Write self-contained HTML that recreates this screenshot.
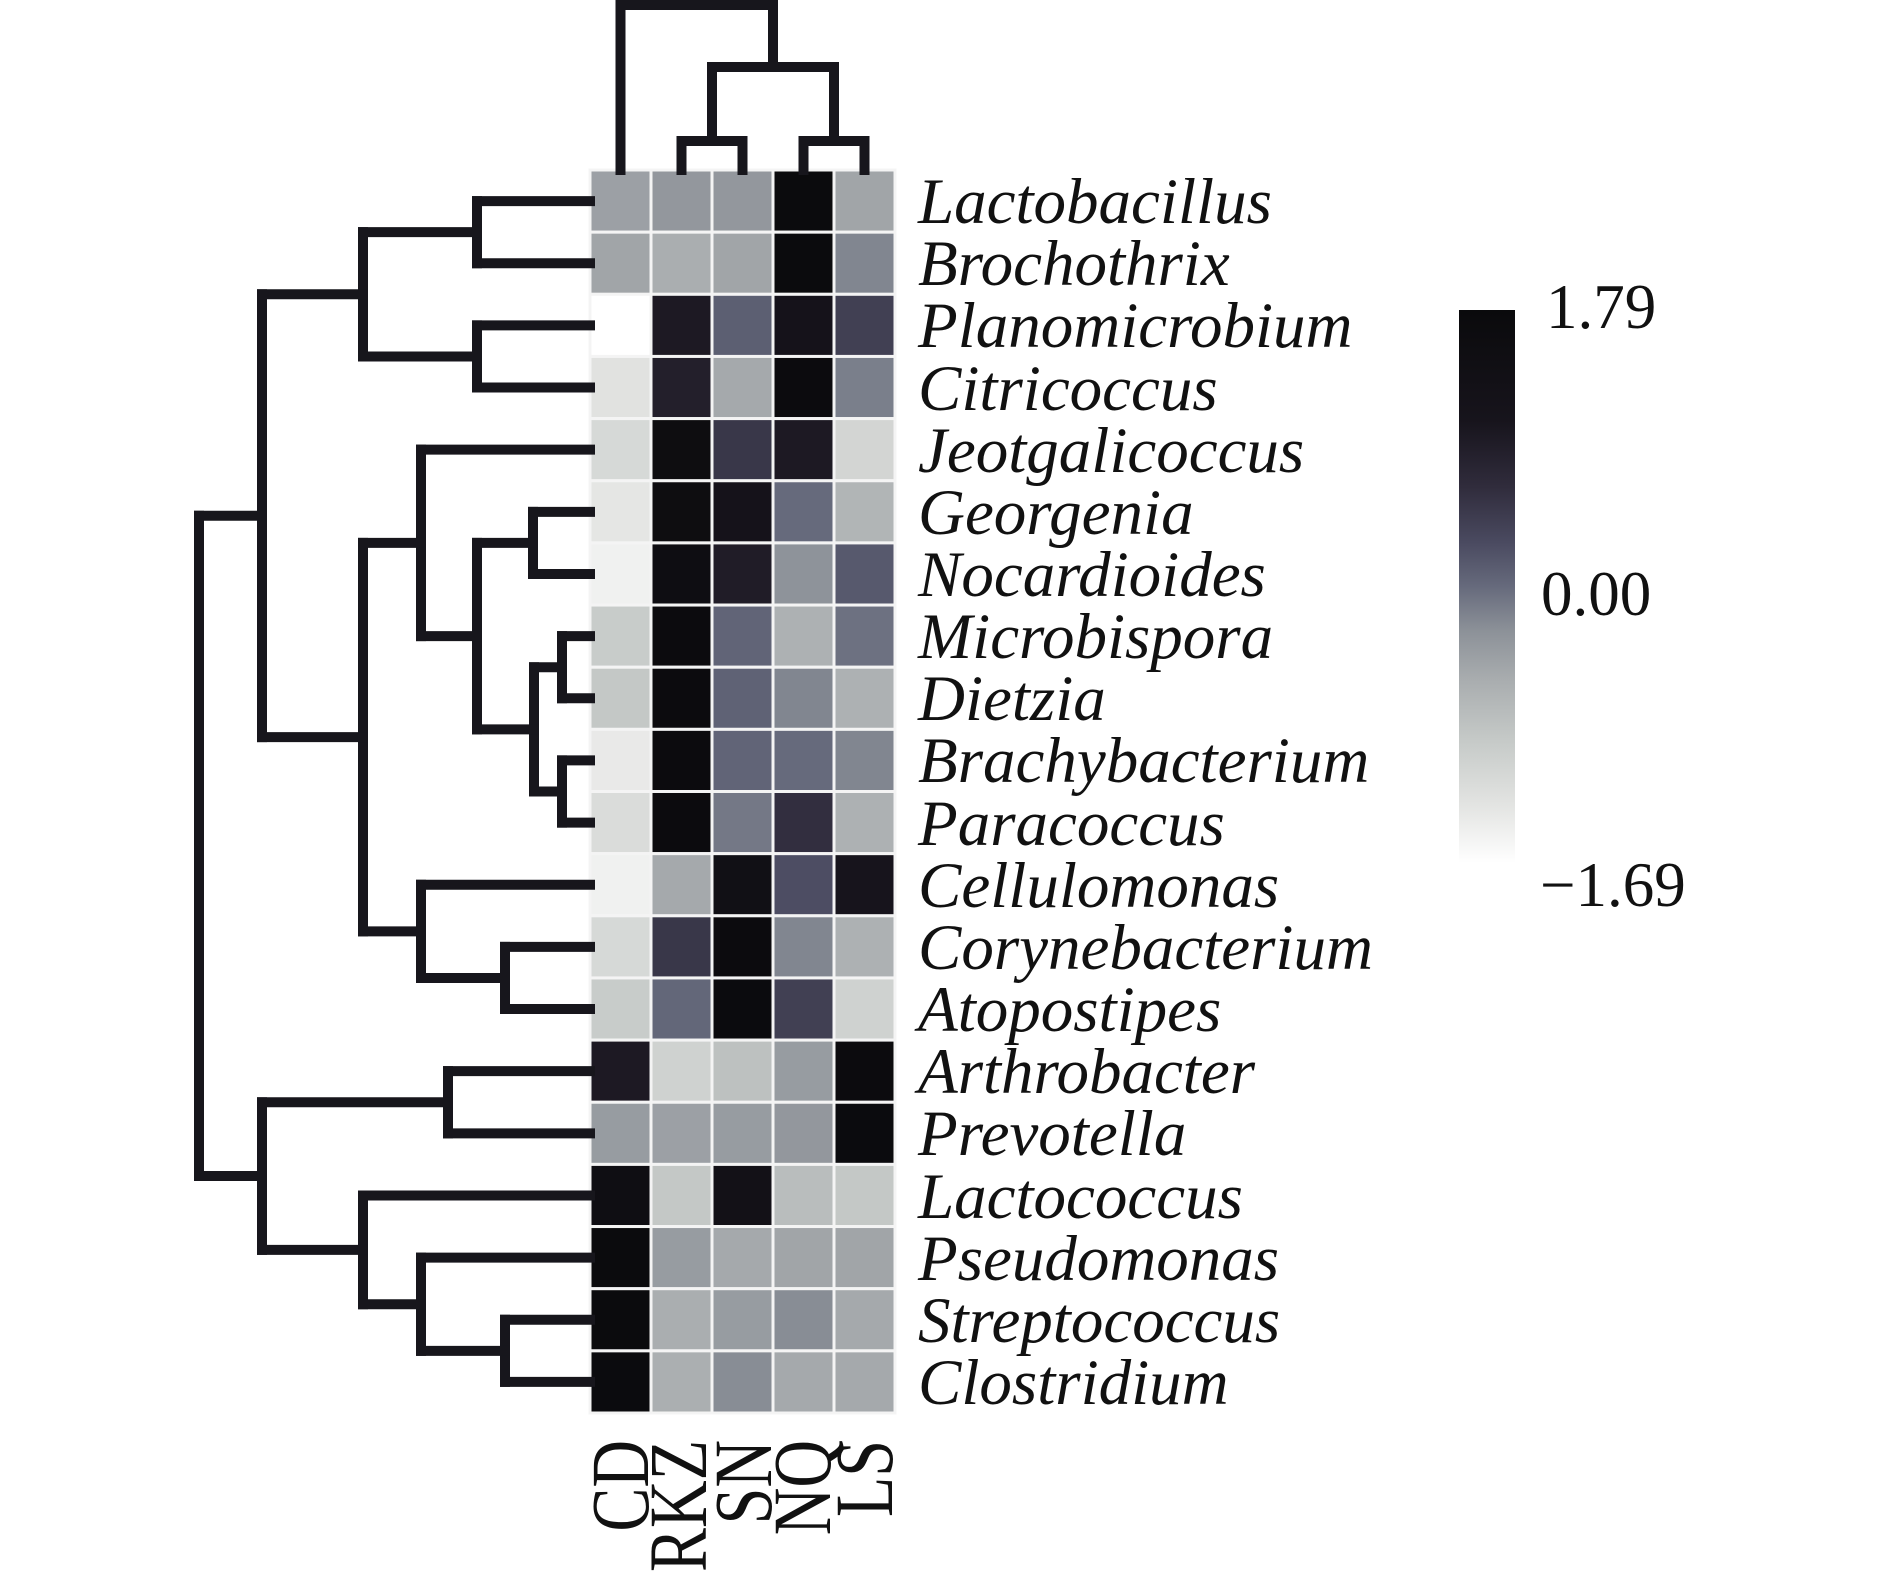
<!DOCTYPE html>
<html><head><meta charset="utf-8">
<style>
html,body{margin:0;padding:0;background:#fff;}
svg{display:block;}
.rl{font-family:"Liberation Serif",serif;font-style:italic;font-size:65px;fill:#111;}
.cl{font-family:"Liberation Serif",serif;font-size:66px;fill:#111;}
.cb{font-family:"Liberation Serif",serif;font-size:63px;fill:#111;}
</style></head>
<body>
<svg id="chart" width="1890" height="1571" viewBox="0 0 1890 1571" xmlns="http://www.w3.org/2000/svg">
<defs>
<linearGradient id="cbg" x1="0" y1="1" x2="0" y2="0">
<stop offset="0" stop-color="#ffffff"/>
<stop offset="0.1" stop-color="#e4e5e3"/>
<stop offset="0.22" stop-color="#c6cac8"/>
<stop offset="0.33" stop-color="#a9adaf"/>
<stop offset="0.42" stop-color="#8c9198"/>
<stop offset="0.5" stop-color="#666a7c"/>
<stop offset="0.58" stop-color="#4a4a60"/>
<stop offset="0.68" stop-color="#302c3c"/>
<stop offset="0.8" stop-color="#17141c"/>
<stop offset="1" stop-color="#0a0a0c"/>
</linearGradient>
</defs>
<g id="cells"></g>
<g id="rowdend"></g>
<g id="coldend"></g>
<g>
<text class="rl" x="918" y="223">Lactobacillus</text>
<text class="rl" x="918" y="285">Brochothrix</text>
<text class="rl" x="918" y="347">Planomicrobium</text>
<text class="rl" x="918" y="410">Citricoccus</text>
<text class="rl" x="918" y="472">Jeotgalicoccus</text>
<text class="rl" x="918" y="534">Georgenia</text>
<text class="rl" x="918" y="596">Nocardioides</text>
<text class="rl" x="918" y="658">Microbispora</text>
<text class="rl" x="918" y="720">Dietzia</text>
<text class="rl" x="918" y="782">Brachybacterium</text>
<text class="rl" x="918" y="845">Paracoccus</text>
<text class="rl" x="918" y="907">Cellulomonas</text>
<text class="rl" x="918" y="969">Corynebacterium</text>
<text class="rl" x="918" y="1031">Atopostipes</text>
<text class="rl" x="918" y="1093">Arthrobacter</text>
<text class="rl" x="918" y="1155">Prevotella</text>
<text class="rl" x="918" y="1218">Lactococcus</text>
<text class="rl" x="918" y="1280">Pseudomonas</text>
<text class="rl" x="918" y="1342">Streptococcus</text>
<text class="rl" x="918" y="1404">Clostridium</text>
</g>
<g>
<text class="cl" text-anchor="end" transform="translate(648,1440) rotate(-90) scale(1,1.25)">CD</text>
<text class="cl" text-anchor="end" transform="translate(706,1440) rotate(-90) scale(1,1.25)">RKZ</text>
<text class="cl" text-anchor="end" transform="translate(771,1440) rotate(-90) scale(1,1.25)">SN</text>
<text class="cl" text-anchor="end" transform="translate(830,1440) rotate(-90) scale(1,1.25)">NQ</text>
<text class="cl" text-anchor="end" transform="translate(892,1440) rotate(-90) scale(1,1.25)">LS</text>
</g>
<g>
<rect x="1459" y="310" width="56" height="553" fill="url(#cbg)"/>
<text class="cb" x="1546" y="328">1.79</text>
<text class="cb" x="1541" y="615">0.00</text>
<text class="cb" x="1540" y="906">−1.69</text>
</g>
</svg>
<script>
const columns = ["CD","RKZ","SN","NQ","LS"];
const rows = ["Lactobacillus","Brochothrix","Planomicrobium","Citricoccus","Jeotgalicoccus","Georgenia","Nocardioides","Microbispora","Dietzia","Brachybacterium","Paracoccus","Cellulomonas","Corynebacterium","Atopostipes","Arthrobacter","Prevotella","Lactococcus","Pseudomonas","Streptococcus","Clostridium"];
const valCD  = [-0.4,-0.45,-1.69,-1.3,-1.15,-1.35,-1.5,-0.95,-0.9,-1.4,-1.2,-1.5,-1.15,-0.95,1.0,-0.35,1.5,1.75,1.75,1.72];
const valRKZ = [-0.3,-0.55,1.0,0.9,1.6,1.6,1.55,1.7,1.7,1.7,1.7,-0.5,0.55,0.08,-1.05,-0.4,-0.9,-0.35,-0.55,-0.57];
const valSN  = [-0.3,-0.45,0.15,-0.5,0.55,1.2,0.95,0.1,0.12,0.1,-0.05,1.4,1.7,1.72,-0.8,-0.35,1.3,-0.5,-0.35,-0.2];
const valNQ  = [1.75,1.75,1.2,1.7,1.0,0.05,-0.25,-0.6,-0.15,0.05,0.65,0.3,-0.15,0.45,-0.35,-0.3,-0.75,-0.45,-0.2,-0.5];
const valLS  = [-0.45,-0.15,0.45,-0.1,-1.1,-0.65,0.2,0.0,-0.6,-0.15,-0.6,1.1,-0.6,-1.05,1.7,1.72,-0.9,-0.45,-0.5,-0.5];
const scaleMin = -1.69, scaleMax = 1.79;
// row dendrogram merges: [leftChild, rightChild, height]; leaves are 0..19, internal nodes 20+
const rowMerges = [[0,1,477],[2,3,477],[20,21,363],[5,6,533],[7,8,562],[9,10,562],[24,25,534],[23,26,477],[4,27,421],[12,13,505],[11,29,421],[28,30,363],[22,31,262],[14,15,448],[18,19,505],[17,34,421],[16,35,363],[33,36,262],[32,37,199]];
const colMerges = [[1,2,141],[3,4,141],[5,6,67],[0,7,5]];

const NS="http://www.w3.org/2000/svg";
const X0=590, Y0=170, CW=61, RH=62.15, LEAFX=590, LEAFY=170;
const xScale = j => X0 + CW*j;
const yScale = i => Y0 + RH*i;
const stops=[[0,[255,255,255]],[0.1,[0xe4,0xe5,0xe3]],[0.22,[0xc6,0xca,0xc8]],[0.33,[0xa9,0xad,0xaf]],[0.42,[0x8c,0x91,0x98]],[0.5,[0x66,0x6a,0x7c]],[0.58,[0x4a,0x4a,0x60]],[0.68,[0x30,0x2c,0x3c]],[0.8,[0x17,0x14,0x1c]],[1,[0x0a,0x0a,0x0c]]];
function color(v){
  let t=(v-scaleMin)/(scaleMax-scaleMin); t=Math.max(0,Math.min(1,t));
  for(let k=1;k<stops.length;k++){ if(t<=stops[k][0]){ const a=stops[k-1],b=stops[k]; const f=(t-a[0])/(b[0]-a[0]); const c=a[1].map((x,i)=>Math.round(x+(b[1][i]-x)*f)); return `rgb(${c[0]},${c[1]},${c[2]})`; } }
  return "#0a0a0c";
}
const series=[valCD,valRKZ,valSN,valNQ,valLS];
const cg=document.getElementById('cells');
series.forEach((vals,j)=>{vals.forEach((v,i)=>{
  const r=document.createElementNS(NS,'rect');
  r.setAttribute('x',xScale(j)); r.setAttribute('y',yScale(i));
  r.setAttribute('width',CW); r.setAttribute('height',RH);
  r.setAttribute('fill',color(v)); r.setAttribute('stroke','#f4f4f4'); r.setAttribute('stroke-width','3');
  
  
  cg.appendChild(r);
});});
function line(g,x1,y1,x2,y2){
  const l=document.createElementNS(NS,'line');
  l.setAttribute('x1',x1);l.setAttribute('y1',y1);l.setAttribute('x2',x2);l.setAttribute('y2',y2);
  l.setAttribute('stroke','#17161c');l.setAttribute('stroke-width','10');l.setAttribute('stroke-linecap','square');
  
  
  g.appendChild(l);
}
(function(){
  const g=document.getElementById('rowdend');
  const pos=rows.map((_,i)=>yScale(i)+RH/2), h=rows.map(()=>LEAFX);
  rowMerges.forEach(([a,b,x])=>{
    line(g,x,pos[a],h[a],pos[a]); line(g,x,pos[b],h[b],pos[b]); line(g,x,pos[a],x,pos[b]);
    pos.push((pos[a]+pos[b])/2); h.push(x);
  });
})();
(function(){
  const g=document.getElementById('coldend');
  const pos=columns.map((_,j)=>xScale(j)+CW/2), h=columns.map(()=>LEAFY);
  colMerges.forEach(([a,b,y])=>{
    line(g,pos[a],y,pos[a],h[a]); line(g,pos[b],y,pos[b],h[b]); line(g,pos[a],y,pos[b],y);
    pos.push((pos[a]+pos[b])/2); h.push(y);
  });
})();
</script>
</body></html>
